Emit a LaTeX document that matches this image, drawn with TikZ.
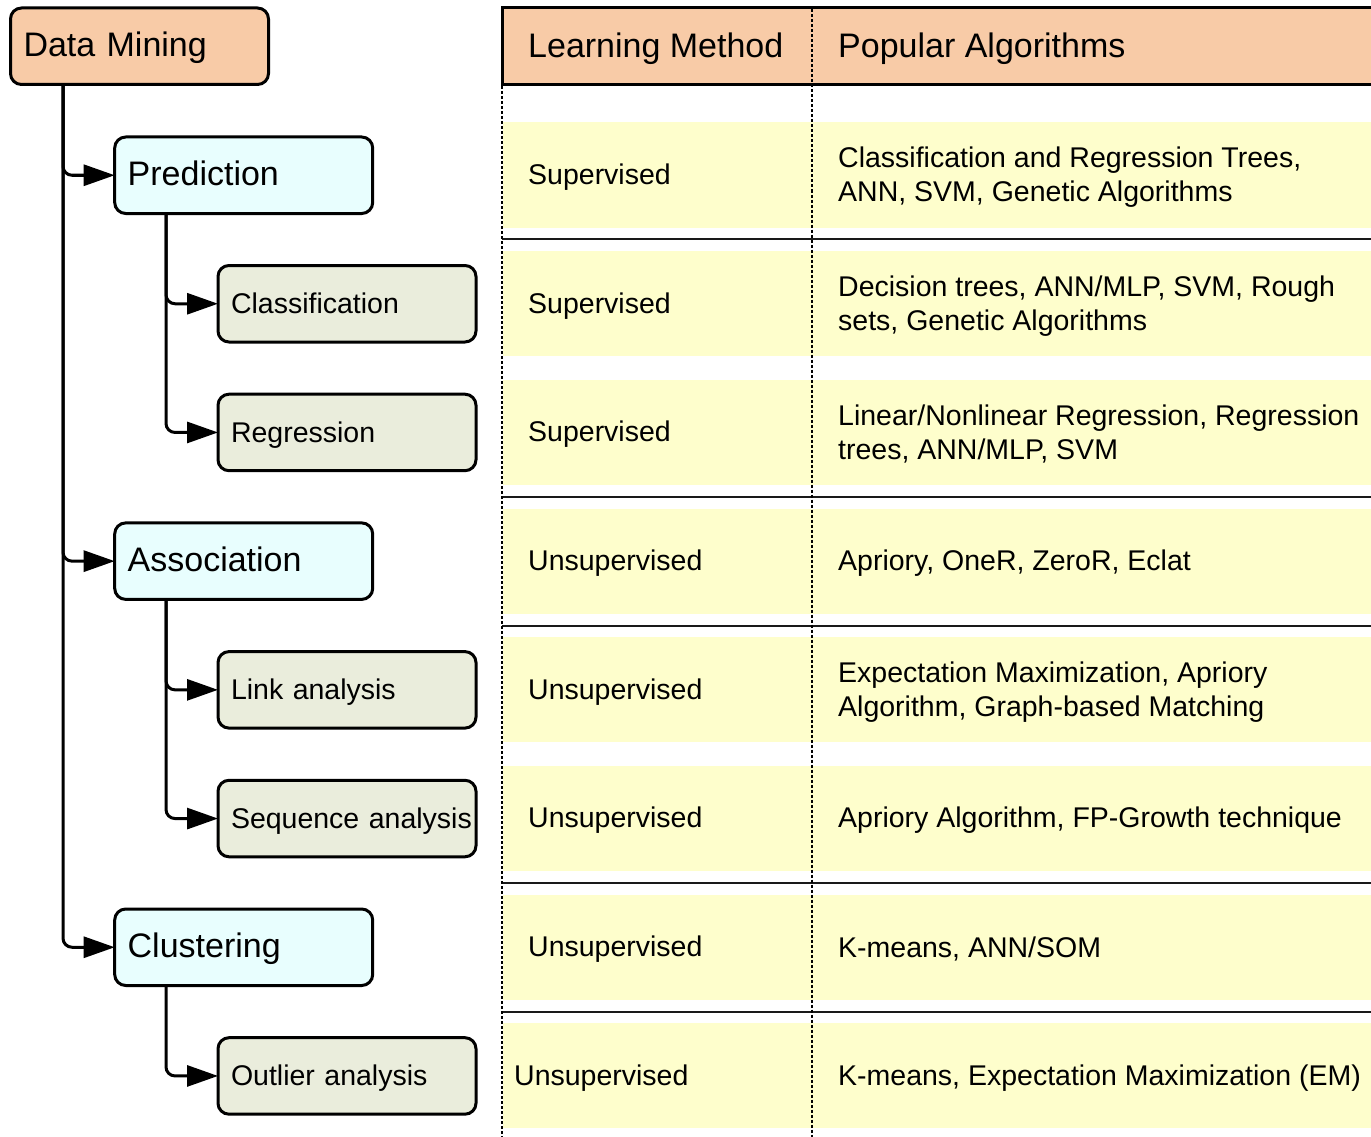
\documentclass[tikz,border=0pt]{standalone}
\usepackage{fontspec}
\setmainfont{Liberation Sans}
\usetikzlibrary{arrows.meta}
\definecolor{peach}{HTML}{F8CBA7}
\definecolor{cyanbox}{HTML}{E8FEFE}
\definecolor{greenbox}{HTML}{EAEDDC}
\definecolor{rowyellow}{HTML}{FEFECC}
\begin{document}
\begin{tikzpicture}[x=1pt,y=-1pt,
  box/.style={draw=black, line width=3pt, rounded corners=11pt, anchor=north west,
    minimum height=76.5pt, text width=232pt, inner xsep=13pt, inner ysep=0pt,
    outer sep=0pt, align=left},
  bigtxt/.style={font=\fontsize{34}{40}\selectfont, text height=28pt, text depth=7pt},
  smalltxt/.style={font=\fontsize{28.5}{34}\selectfont, text height=26pt, text depth=6.6pt},
  rootbox/.style={box, bigtxt, fill=peach},
  midbox/.style={box, bigtxt, fill=cyanbox},
  leafbox/.style={box, smalltxt, fill=greenbox},
  conn/.style={line width=3pt, rounded corners=9pt, -{Triangle[length=31pt,width=21pt]}},
  sepline/.style={line width=2.4pt, draw=black!90},
  dotline/.style={line width=2pt, dash pattern=on 3pt off 2pt},
  cell/.style={anchor=west, inner sep=0pt, align=left, yshift=-2pt, font=\fontsize{28.5}{34}\selectfont},
  headtxt/.style={anchor=west, inner sep=0pt, yshift=-3pt, font=\fontsize{34}{40}\selectfont}
]
\useasboundingbox (0,0) rectangle (1371,1137);

% ---------- table ----------
\fill[peach] (502,8) rectangle (1372,84.5);
\foreach \i in {0,...,7} {
  \pgfmathsetmacro{\c}{175+128.69*\i}
  \fill[rowyellow] (503,\c-52.5) rectangle (1372,\c+52.5);
}
\draw[line width=3pt] (1372,8) -- (502,8) -- (502,84.5) -- (1372,84.5);
\foreach \y in {239,497,626,883,1012}
  \draw[sepline] (502,\y) -- (1372,\y);
\draw[dotline] (502,86) -- (502,1137);
\draw[dotline] (812.3,9.5) -- (812.3,1137);

\node[headtxt] (hlm) at (528,46) {Learning Method};
\node[headtxt] (hpa) at (838,46) {Popular Algorithms};

\node[cell] (l1) at (528,175) {Supervised};
\node[cell] (l2) at (528,303.7) {Supervised};
\node[cell] (l3) at (528,432.4) {Supervised};
\node[cell] (l4) at (528,561.1) {Unsupervised};
\node[cell] (l5) at (528,689.8) {Unsupervised};
\node[cell] (l6) at (528,818.5) {Unsupervised};
\node[cell] (l7) at (528,947.1) {Unsupervised};
\node[cell] (l8) at (514,1075.8) {Unsupervised};

\node[cell] (r1) at (838,175) {Classification and Regression Trees,\\ANN, SVM, Genetic Algorithms};
\node[cell] (r2) at (838,303.7) {Decision trees, ANN/MLP, SVM, Rough\\sets, Genetic Algorithms};
\node[cell] (r3) at (838,432.4) {Linear/Nonlinear Regression, Regression\\trees, ANN/MLP, SVM};
\node[cell] (r4) at (838,561.1) {Apriory, OneR, ZeroR, Eclat};
\node[cell] (r5) at (838,689.8) {Expectation Maximization, Apriory\\Algorithm, Graph-based Matching};
\node[cell] (r6) at (838,818.5) {Apriory Algorithm, FP-Growth technique};
\node[cell] (r7) at (838,947.1) {K-means, ANN/SOM};
\node[cell] (r8) at (838,1075.8) {K-means, Expectation Maximization (EM)};

% ---------- tree ----------
\node[rootbox] (dm) at (10.5,8) {Data Mining};
\node[midbox] (pred) at (114.7,137) {Prediction};
\node[leafbox] (cls) at (218,265.5) {Classification};
\node[leafbox] (reg) at (218,394.2) {Regression};
\node[midbox] (asc) at (114.7,522.9) {Association};
\node[leafbox] (lnk) at (218,651.6) {Link analysis};
\node[leafbox] (seq) at (218,780.3) {\mbox{Sequence analysis}};
\node[midbox] (clu) at (114.7,909) {Clustering};
\node[leafbox] (out) at (218,1037.7) {Outlier analysis};

\coordinate (tdm) at (63,84.5);
\coordinate (tpred) at (166,213.5);
\coordinate (tasc) at (166,599.4);
\coordinate (tclu) at (166,985.5);

\draw[conn] (tdm) |- (pred.west);
\draw[conn] (tdm) |- (asc.west);
\draw[conn] (tdm) |- (clu.west);
\draw[conn] (tpred) |- (cls.west);
\draw[conn] (tpred) |- (reg.west);
\draw[conn] (tasc) |- (lnk.west);
\draw[conn] (tasc) |- (seq.west);
\draw[conn] (tclu) |- (out.west);
\end{tikzpicture}
\end{document}
